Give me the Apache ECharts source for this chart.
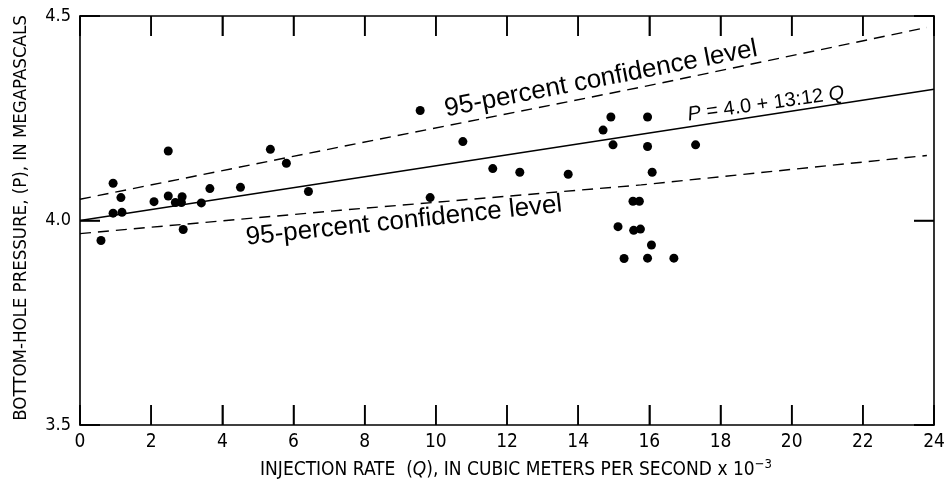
<!DOCTYPE html>
<html>
<head>
<meta charset="utf-8">
<script src="https://cdn.jsdelivr.net/npm/echarts@6/dist/echarts.min.js"></script>
<style>
html,body{margin:0;padding:0;background:#fff;}
#chart{width:950px;height:489px;}
</style>
</head>
<body>
<div id="chart"></div>
<script>
// Injection rate Q (x 10^-3 m3/s) and bottom-hole pressure P (MPa) of the observations
const injectionRate = [0.59,0.93,0.93,1.15,1.18,2.08,2.48,2.48,2.68,2.87,2.85,2.90,3.41,3.65,4.51,5.35,5.80,6.42,
  9.56,9.84,10.76,11.60,12.36,13.72,14.70,14.92,14.98,15.12,15.29,15.54,15.72,15.56,15.75,15.95,15.95,15.95,16.06,16.08,16.69,17.30];
const pressure = [3.951,4.091,4.018,4.056,4.020,4.046,4.170,4.060,4.044,4.058,4.044,3.978,4.043,4.078,4.081,4.174,4.140,4.071,
  4.269,4.056,4.193,4.127,4.118,4.113,4.221,4.253,4.185,3.985,3.907,4.047,4.047,3.976,3.979,4.253,4.181,3.908,3.940,4.118,3.908,4.185];

// Regression line P = 4.0 + 13.12 Q and the 95-percent confidence limits
const fitQ = [0, 24];
const fitP = [4.0, 4.321];
const upperQ = [0, 7.32, 15.77, 23.8];
const upperP = [4.052, 4.18, 4.326, 4.472];
const lowerQ = [0, 7.32, 15.77, 23.8];
const lowerP = [3.968, 4.025, 4.087, 4.159];

const xTicks = [0,2,4,6,8,10,12,14,16,18,20,22,24];
const yTicks = [3.5, 4.0, 4.5];

const yAxisName = 'BOTTOM-HOLE PRESSURE, (P), IN MEGAPASCALS';
const bandLabel = '95-percent confidence level';

const cond = "'Liberation Sans Narrow','DejaVu Sans Condensed','Liberation Sans',sans-serif";
const sans = "'Liberation Sans',Arial,Helvetica,sans-serif";
const ink = '#000';

const zip = (a, b) => a.map((v, i) => [v, b[i]]);

const chart = echarts.init(document.getElementById('chart'), null, {renderer: 'canvas'});

const xMin = xTicks[0], xMax = xTicks[xTicks.length - 1];
const yMin = yTicks[0], yMax = yTicks[yTicks.length - 1];
const TICK = 20;

function mkX(pos, showLabel) {
  return {
    type: 'value', min: xMin, max: xMax, interval: 2, position: pos,
    axisLine: {show: true, onZero: false, lineStyle: {color: ink, width: 1.6}},
    axisTick: {show: true, inside: true, length: TICK, lineStyle: {color: ink, width: 1.5}},
    axisLabel: {show: showLabel, margin: 8, fontSize: 19, color: ink, fontFamily: cond},
    splitLine: {show: false}
  };
}
function mkY(pos, showLabel) {
  return {
    type: 'value', min: yMin, max: yMax, interval: 0.5, position: pos,
    axisLine: {show: true, onZero: false, lineStyle: {color: ink, width: 1.6}},
    axisTick: {show: true, inside: true, length: TICK, lineStyle: {color: ink, width: 1.5}},
    axisLabel: {show: showLabel, margin: 9, fontSize: 18, color: ink, fontFamily: cond,
      formatter: v => v.toFixed(1)},
    splitLine: {show: false}
  };
}

const option = {
  animation: false,
  backgroundColor: '#fff',
  grid: {left: 80, right: 16, top: 16, bottom: 64},
  xAxis: [mkX('bottom', true), mkX('top', false)],
  yAxis: [mkY('left', true), mkY('right', false)],
  series: [
    {
      type: 'custom', clip: false, silent: true,
      data: xTicks.map(v => [v, yMin]),
      renderItem: (params, api) => {
        const pb = api.coord([api.value(0), yMin]);
        const pt = api.coord([api.value(0), yMax]);
        return {
          type: 'group',
          children: [
            {type: 'line', shape: {x1: pb[0], y1: pb[1], x2: pb[0], y2: pb[1] - TICK}, style: {stroke: ink, lineWidth: 1.5}},
            {type: 'line', shape: {x1: pt[0], y1: pt[1], x2: pt[0], y2: pt[1] + TICK}, style: {stroke: ink, lineWidth: 1.5}}
          ]
        };
      }
    },
    {
      type: 'custom', clip: false, silent: true,
      data: yTicks.map(v => [xMin, v]),
      renderItem: (params, api) => {
        const pl = api.coord([xMin, api.value(1)]);
        const pr = api.coord([xMax, api.value(1)]);
        return {
          type: 'group',
          children: [
            {type: 'line', shape: {x1: pl[0], y1: pl[1], x2: pl[0] + TICK, y2: pl[1]}, style: {stroke: ink, lineWidth: 1.5}},
            {type: 'line', shape: {x1: pr[0], y1: pr[1], x2: pr[0] - TICK, y2: pr[1]}, style: {stroke: ink, lineWidth: 1.5}}
          ]
        };
      }
    },
    {
      type: 'line', data: zip(fitQ, fitP), symbol: 'none', silent: true,
      lineStyle: {color: ink, width: 1.6, type: 'solid'}
    },
    {
      type: 'line', data: zip(upperQ, upperP), symbol: 'none', silent: true,
      lineStyle: {color: ink, width: 1.4, type: [11, 7]}
    },
    {
      type: 'line', data: zip(lowerQ, lowerP), symbol: 'none', silent: true,
      lineStyle: {color: ink, width: 1.4, type: [11, 7]}
    },
    {
      type: 'scatter', data: zip(injectionRate, pressure), symbol: 'circle', symbolSize: 9,
      itemStyle: {color: ink, opacity: 1}
    }
  ],
  graphic: [
    {
      type: 'text', x: 21, y: 218, rotation: Math.PI / 2,
      style: {text: yAxisName, fontFamily: cond, fontSize: 18.5, fill: ink, align: 'center', verticalAlign: 'middle'}
    },
    {
      type: 'text', x: 516, y: 470,
      style: {
        text: '{a|INJECTION RATE  (}{i|Q}{a|), IN CUBIC METERS PER SECOND x 10}{s|−3}',
        align: 'center', verticalAlign: 'middle',
        rich: {
          a: {fontFamily: cond, fontSize: 19, fill: ink},
          i: {fontFamily: cond, fontSize: 19, fill: ink, fontStyle: 'italic'},
          s: {fontFamily: cond, fontSize: 13, fill: ink, verticalAlign: 'top', padding: [0, 0, 10, 0]}
        }
      }
    },
    {
      type: 'text', x: 601, y: 79, rotation: 11 * Math.PI / 180,
      style: {text: bandLabel, fontFamily: sans, fontSize: 26, fill: ink, align: 'center', verticalAlign: 'middle'}
    },
    {
      type: 'text', x: 404, y: 221, rotation: 6 * Math.PI / 180,
      style: {text: bandLabel, fontFamily: sans, fontSize: 26, fill: ink, align: 'center', verticalAlign: 'middle'}
    },
    {
      type: 'text', x: 766, y: 104, rotation: 8 * Math.PI / 180,
      style: {
        text: '{i|P} = 4.0 + 13:12 {i|Q}', align: 'center', verticalAlign: 'middle',
        rich: {i: {fontFamily: sans, fontSize: 20, fill: ink, fontStyle: 'italic'}},
        fontFamily: sans, fontSize: 20, fill: ink
      }
    }
  ]
};

chart.setOption(option);
</script>
</body>
</html>
